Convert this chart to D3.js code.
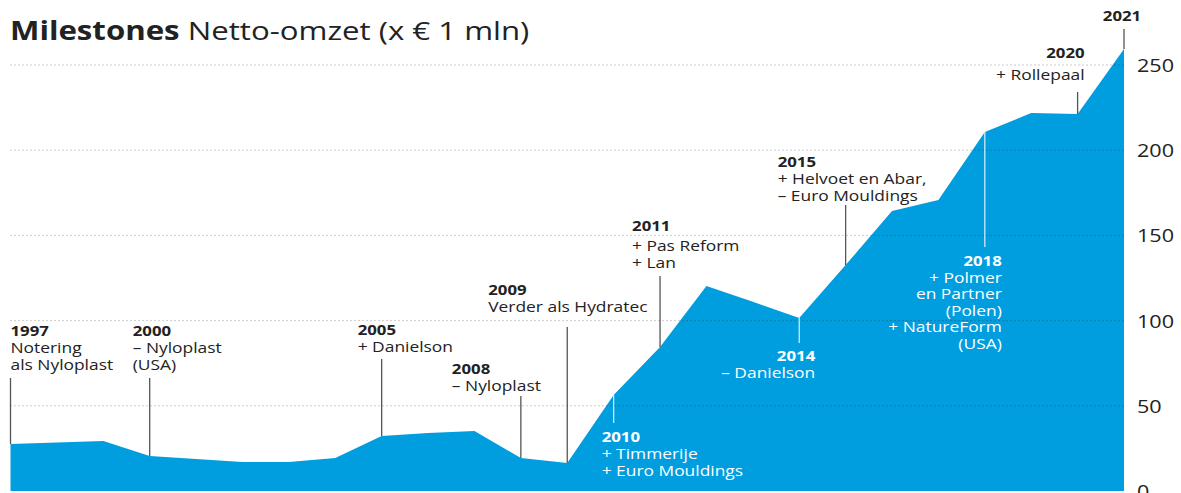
<!DOCTYPE html>
<html><head><meta charset="utf-8">
<script src="https://cdn.jsdelivr.net/npm/d3@7"></script>
<style>
html,body{margin:0;padding:0;background:#fff;overflow:hidden}
svg{display:block;font-family:"Open Sans",sans-serif}
</style></head>
<body><svg id="c" width="1181" height="493"></svg>
<script>
// ---- data ----
const years = [1997,1998,1999,2000,2001,2002,2003,2004,2005,2006,2007,2008,2009,2010,2011,2012,2013,2014,2015,2016,2017,2018,2019,2020,2021];
const revenue = [27.6,28.5,29.3,20.5,18.8,17.0,17.0,19.4,32.3,34.0,35.2,19.4,16.4,56.3,84.5,120.3,111.0,101.5,132.6,164.3,170.8,210.7,221.8,221.2,259.4];
const yTicks = [0,50,100,150,200,250];
const titleBold = "Milestones";
const titleRest = " Netto-omzet (x € 1 mln)";
const milestoneYears = [1997,2000,2005,2008,2009,2010,2011,2014,2015,2018,2020,2021];
const milestoneTexts = [
  ["Notering","als Nyloplast"],
  ["– Nyloplast","(USA)"],
  ["+ Danielson"],
  ["– Nyloplast"],
  ["Verder als Hydratec"],
  ["+ Timmerije","+ Euro Mouldings"],
  ["+ Pas Reform","+ Lan"],
  ["– Danielson"],
  ["+ Helvoet en Abar,","– Euro Mouldings"],
  ["+ Polmer","en Partner","(Polen)","+ NatureForm","(USA)"],
  ["+ Rollepaal"],
  []
];
// ---- layout (pixels) ----
const layout = [
  {dx:0,   base:336, anchor:"start",  lead:378, inside:false},
  {dx:-17, base:336, anchor:"start",  lead:378, inside:false},
  {dx:-24, base:335, anchor:"start",  lead:359, inside:false},
  {dx:-69, base:374, anchor:"start",  lead:396, inside:false},
  {dx:-79, base:295, anchor:"start",  lead:327, inside:false},
  {dx:-12, base:442, anchor:"start",  lead:423, inside:true},
  {dx:-28, base:231, anchor:"start",  lead:276, inside:false, yg:20},
  {dx:16,  base:361, anchor:"end",    lead:343, inside:true},
  {dx:-68, base:167, anchor:"start",  lead:205, inside:false},
  {dx:17,  base:266, anchor:"end",    lead:247, inside:true, lg:16.4},
  {dx:7,   base:58,  anchor:"end",    lead:92,  inside:false, yg:22},
  {dx:-2,  base:21,  anchor:"middle", lead:29,  inside:false}
];
const SX = 1.2; // horizontal text stretch of the original
const blue = "#009ddf";

const svg = d3.select("#c");
const x = d3.scaleLinear().domain([1997,2021]).range([10.5,1124]);
const y = d3.scaleLinear().domain([0,250]).range([491,65]);
const data = years.map((yr,i)=>({yr, v:revenue[i]}));

function stext(g, px, py, str, opts){
  return g.append("text")
    .attr("transform", `translate(${px},${py}) scale(${SX},1)`)
    .attr("text-anchor", opts.anchor||"start")
    .attr("font-size", opts.size)
    .attr("font-weight", opts.weight||400)
    .attr("fill", opts.fill||"#222")
    .text(str);
}

// area
const area = d3.area().x(d=>x(d.yr)).y0(y(0)).y1(d=>y(d.v)).curve(d3.curveLinear);
svg.append("path").datum(data).attr("d", area).attr("fill", blue);

// grid
const grid = svg.append("g");
grid.selectAll("line").data(yTicks.filter(t=>t>0)).join("line")
  .attr("x1", x(1997)).attr("x2", x(2021))
  .attr("y1", d=>y(d)).attr("y2", d=>y(d))
  .attr("stroke", "#222").attr("stroke-opacity", 0.45)
  .attr("stroke-width", 1).attr("stroke-dasharray", "1,3");

// right axis
const axis = d3.axisRight(y).tickValues(yTicks).tickSize(0).tickPadding(0);
const ag = svg.append("g").attr("transform", `translate(${x(2021)+13},0)`).call(axis);
ag.select(".domain").remove();
ag.selectAll(".tick text").each(function(){
  d3.select(this).attr("font-size", 18).attr("font-family","Open Sans, sans-serif").attr("fill","#222")
    .attr("x",0).attr("dy","0.36em")
    .attr("transform", `scale(${SX},1)`);
});

// milestones
const mg = svg.append("g");
milestoneYears.forEach((yr,i)=>{
  const L = layout[i];
  const d = data.find(e=>e.yr===yr);
  const px = x(yr), py = y(d.v);
  const col = L.inside ? "#fff" : "#222";
  mg.append("line")
    .attr("x1", px).attr("x2", px)
    .attr("y1", L.inside ? py : L.lead)
    .attr("y2", L.inside ? L.lead : py)
    .attr("stroke", L.inside ? "#fff" : "#555")
    .attr("stroke-opacity", L.inside ? 0.8 : 1)
    .attr("stroke-width", 1.3);
  const tx = px + L.dx;
  stext(mg, tx, L.base, String(yr), {anchor:L.anchor, size:14, weight:700, fill:col});
  const yg = L.yg || 17, lg = L.lg || 16.8;
  milestoneTexts[i].forEach((s,j)=>{
    stext(mg, tx, L.base + yg + j*lg, s, {anchor:L.anchor, size:14.5, fill:col});
  });
});

// title
const tt = svg.append("text")
  .attr("transform", `translate(10,40) scale(${SX},1)`)
  .attr("font-size", 26).attr("fill","#222");
tt.append("tspan").attr("font-weight",700).text(titleBold);
tt.append("tspan").attr("font-weight",400).text(titleRest);
</script>
</body></html>
